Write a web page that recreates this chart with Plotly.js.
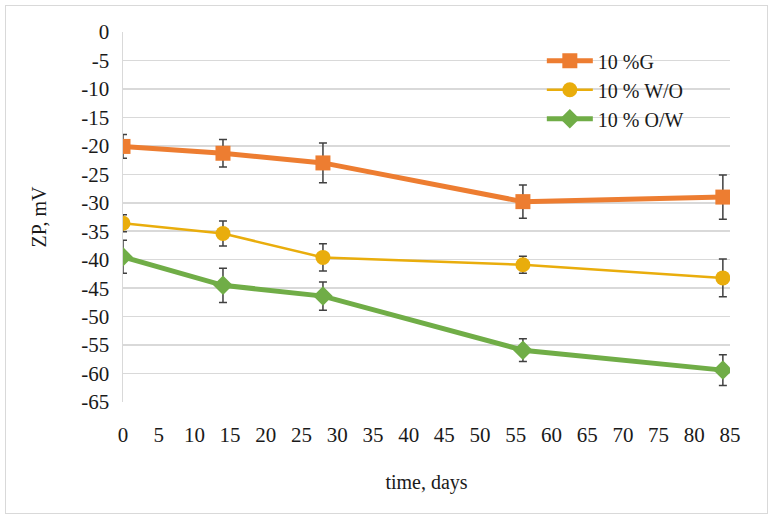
<!DOCTYPE html>
<html>
<head>
<meta charset="utf-8">
<script src="https://cdn.plot.ly/plotly-3.0.1.min.js"></script>
<style>
  body { margin: 0; background: #fff; }
  #wrap { position: relative; width: 774px; height: 524px; }
  #frame { position: absolute; left: 5px; top: 5px; width: 761px; height: 507px;
           border: 1px solid #d9d9d9; pointer-events: none; }
  #graph { position: absolute; left: 0; top: 0; }
</style>
</head>
<body>
<div id="wrap">
  <div id="graph"></div>
  <div id="frame"></div>
</div>
<script>
var days = [0, 14, 28, 56, 84];

var seriesNames = ['10 %G', '10 % W/O', '10 % O/W'];
var zpG  = [-20.1, -21.3, -23.0, -29.8, -29.0];
var errG = [2.1, 2.4, 3.5, 2.9, 3.9];
var zpWO  = [-33.6, -35.4, -39.6, -40.9, -43.2];
var errWO = [1.5, 2.2, 2.4, 1.5, 3.3];
var zpOW  = [-39.5, -44.5, -46.4, -55.9, -59.4];
var errOW = [2.9, 3.0, 2.5, 2.0, 2.7];

var xTicks = [0, 5, 10, 15, 20, 25, 30, 35, 40, 45, 50, 55, 60, 65, 70, 75, 80, 85];
var yTicks = [0, -5, -10, -15, -20, -25, -30, -35, -40, -45, -50, -55, -60, -65];
// Excel shows a plain hyphen, not the unicode minus
var yTickText = yTicks.map(function (v) { return String(v); });

var serif = 'Liberation Serif';
var errStyle = {color: '#404040', thickness: 1.5, width: 4};

function errBar(vals) {
    return Object.assign({type: 'data', array: vals, visible: true}, errStyle);
}

var data = [
    {x: days, y: zpG, name: seriesNames[0], type: 'scatter', mode: 'lines+markers',
     line: {color: '#ED7D31', width: 5},
     marker: {symbol: 'square', size: 15, color: '#ED7D31'},
     error_y: errBar(errG)},
    {x: days, y: zpWO, name: seriesNames[1], type: 'scatter', mode: 'lines+markers',
     line: {color: '#E9AD0C', width: 2.5},
     marker: {symbol: 'circle', size: 15, color: '#E9AD0C'},
     error_y: errBar(errWO)},
    {x: days, y: zpOW, name: seriesNames[2], type: 'scatter', mode: 'lines+markers',
     line: {color: '#70AD47', width: 5},
     marker: {symbol: 'diamond', size: 15, color: '#70AD47'},
     error_y: errBar(errOW)}
];

var tickFont = {family: serif, size: 21, color: '#1a1a1a'};

var layout = {
    width: 774, height: 524,
    margin: {l: 123, r: 44, t: 32, b: 122},
    paper_bgcolor: '#fff', plot_bgcolor: '#fff',
    font: {family: serif, size: 20, color: '#1a1a1a'},
    showlegend: true,
    legend: {x: 0.69, y: 0.975, xanchor: 'left', yanchor: 'top', itemwidth: 46,
             bgcolor: 'rgba(0,0,0,0)', font: {family: serif, size: 20, color: '#1a1a1a'}},
    xaxis: {
        range: [0, 85], tickmode: 'array', tickvals: xTicks,
        showgrid: false, zeroline: false, showline: false,
        ticks: '', ticklabelstandoff: 18, tickfont: tickFont,
        title: {text: 'time, days', font: {family: serif, size: 20, color: '#1a1a1a'}, standoff: 28}
    },
    yaxis: {
        range: [-65, 0], tickmode: 'array', tickvals: yTicks, ticktext: yTickText,
        showgrid: true, gridcolor: '#d9d9d9', gridwidth: 1.5,
        zeroline: false, showline: true, linecolor: '#d9d9d9', linewidth: 1.5,
        ticks: '', ticklabelstandoff: 8, tickfont: tickFont,
        title: {text: 'ZP, mV', font: {family: serif, size: 20, color: '#1a1a1a'}, standoff: 29}
    }
};

Plotly.newPlot('graph', data, layout, {displayModeBar: false, staticPlot: true});
</script>
</body>
</html>
